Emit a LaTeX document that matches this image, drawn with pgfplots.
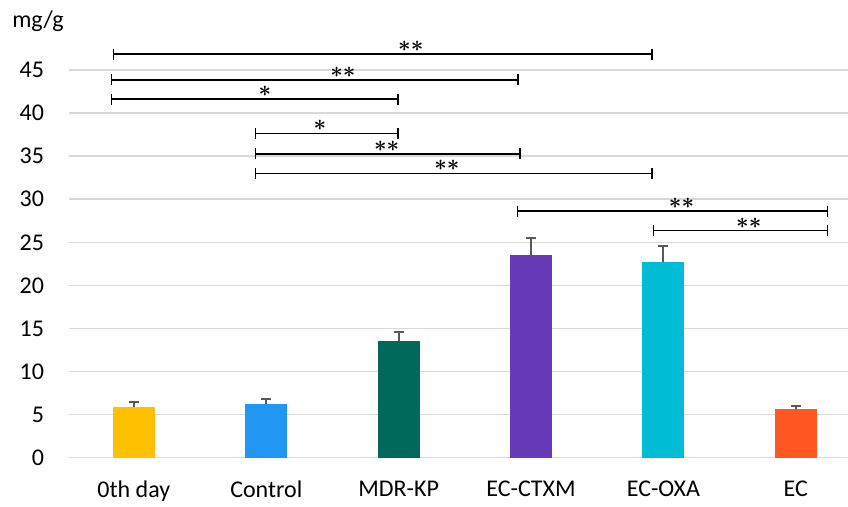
\documentclass[border=0pt]{standalone}
\usepackage{amsmath}
\usepackage{fontspec}
\setmainfont{Carlito}
\usepackage{pgfplots}
\pgfplotsset{compat=1.18}
\usetikzlibrary{arrows.meta}
\definecolor{cA}{HTML}{FFC000}
\definecolor{cB}{HTML}{2196F3}
\definecolor{cC}{HTML}{00695C}
\definecolor{cD}{HTML}{673AB7}
\definecolor{cE}{HTML}{00BCD4}
\definecolor{cF}{HTML}{FF5722}
\definecolor{gridc}{HTML}{D9D9D9}
\definecolor{errc}{HTML}{595959}
\newcommand{\st}{{\boldsymbol{\ast}}}
\begin{document}
\begin{tikzpicture}[font=\fontsize{12}{14}\selectfont]
\useasboundingbox (0,0) rectangle (424pt,253.5pt);
\begin{axis}[
  at={(34.5pt,24.65pt)}, anchor=south west,
  scale only axis, width=389.5pt, height=215.4pt,
  xmin=-0.49, xmax=5.394, ymin=0, ymax=50,
  axis lines=left, axis line style={draw=none},
  ymajorgrids, grid style={gridc, line width=0.75pt},
  ytick={0,5,...,45},
  xtick={0,1,2,3,4,5},
  xticklabels={0th day,Control,MDR-KP,EC-CTXM,EC-OXA,EC},
  major tick length=0pt,
  /pgf/number format/assume math mode=true,
  yticklabel style={anchor=east, xshift=-9pt},
  xticklabel style={anchor=north, yshift=-8pt},
  clip=false,
  barst/.style={
    ybar, bar width=21pt, bar shift=0pt, draw=none,
    error bars/y dir=plus, error bars/y explicit,
    error bars/error bar style={errc, line width=1pt},
    error bars/error mark options={rotate=90, mark size=2.5pt, errc, line width=1pt}
  },
  brk/.style={draw=black, line width=0.8pt, {Bar[width=5.5pt]}-{Bar[width=5.5pt]}, sharp plot, mark=none, forget plot},
]
\addplot[barst, fill=cA] coordinates {(0,5.92) +- (0,0.58)};
\addplot[barst, fill=cB] coordinates {(1,6.27) +- (0,0.50)};
\addplot[barst, fill=cC] coordinates {(2,13.55) +- (0,1.08)};
\addplot[barst, fill=cD] coordinates {(3,23.56) +- (0,1.94)};
\addplot[barst, fill=cE] coordinates {(4,22.67) +- (0,1.86)};
\addplot[barst, fill=cF] coordinates {(5,5.65) +- (0,0.38)};
% significance brackets
\addplot[brk] coordinates {(-0.159,46.85) (3.92,46.85)};
\addplot[brk] coordinates {(-0.174,43.84) (2.908,43.84)};
\addplot[brk] coordinates {(-0.174,41.63) (2.0,41.63)};
\addplot[brk] coordinates {(0.914,37.65) (2.0,37.65)};
\addplot[brk] coordinates {(0.914,35.25) (2.923,35.25)};
\addplot[brk] coordinates {(0.914,33.0) (3.92,33.0)};
\addplot[brk] coordinates {(2.893,28.6) (5.245,28.6)};
\addplot[brk] coordinates {(3.92,26.35) (5.245,26.35)};
\begin{scope}[every node/.style={anchor=base, inner sep=0pt, yshift=1.2pt, font=\fontsize{11}{13}\selectfont}]
\node at (axis cs:2.092,46.85) {$\st\st$};
\node at (axis cs:1.579,43.84) {$\st\st$};
\node at (axis cs:0.989,41.63) {$\st$};
\node at (axis cs:1.405,37.65) {$\st$};
\node at (axis cs:1.909,35.25) {$\st\st$};
\node at (axis cs:2.364,33.0) {$\st\st$};
\node at (axis cs:4.137,28.6) {$\st\st$};
\node at (axis cs:4.645,26.35) {$\st\st$};
\end{scope}
\end{axis}
\node[anchor=base, inner sep=0pt] at (19pt,239.5pt) {mg/g};
\end{tikzpicture}
\end{document}
